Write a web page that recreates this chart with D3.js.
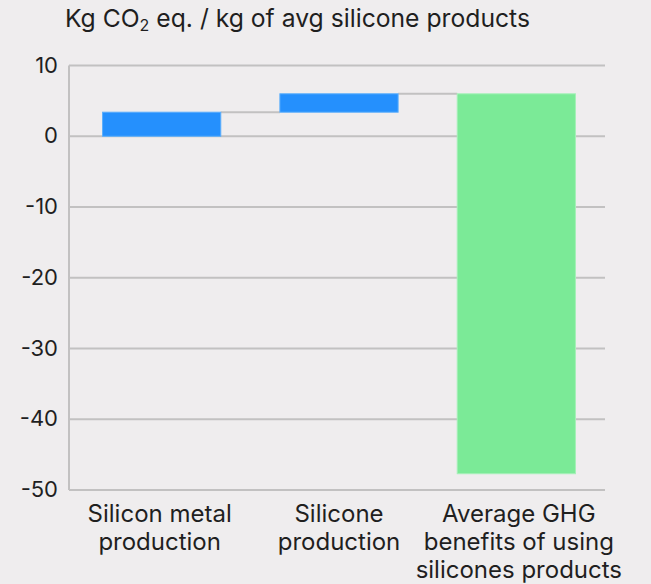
<!DOCTYPE html>
<html>
<head>
<meta charset="utf-8">
<script src="https://cdn.jsdelivr.net/npm/d3@7"></script>
<style>
  html, body { margin: 0; padding: 0; background: #efedee; }
  svg { display: block; }
  text { font-family: Inter, "Noto Sans", sans-serif; fill: #1f1f1f; }
</style>
</head>
<body>
<svg id="chart" width="651" height="584"></svg>
<script>
// Waterfall steps: contribution of each stage, in kg CO2 eq. per kg of product
const categories = [
  ["Silicon metal", "production"],
  ["Silicone", "production"],
  ["Average GHG", "benefits of using", "silicones products"]
];
const stepValues = [3.4, 2.6, -53.7];
const stepKinds = ["emission", "emission", "benefit"];
const yTicks = [10, 0, -10, -20, -30, -40, -50];
const yTickLabels = ["10", "0", "-10", "-20", "-30", "-40", "-50"];
const yDomain = [-50, 10];

const colors = { emission: "#2590fd", benefit: "#7bea97" };
const strokes = { emission: "#5aaefc", benefit: "#a6f1b8" };

const svg = d3.select("#chart");
const margin = { left: 69, right: 46, top: 65.5, bottom: 94 };
const W = 651, H = 584;

const y = d3.scaleLinear().domain(yDomain).range([H - margin.bottom, margin.top]);
const x = d3.scaleBand()
  .domain(d3.range(categories.length))
  .range([73, W - margin.right])
  .paddingInner(1 / 3)
  .paddingOuter(1 / 6);

// cumulative start/end of each step
let running = 0;
const steps = stepValues.map((v, i) => {
  const s = { i, start: running, end: running + v, kind: stepKinds[i] };
  running += v;
  return s;
});

// horizontal grid
svg.append("g")
  .selectAll("line")
  .data(yTicks)
  .join("line")
  .attr("x1", margin.left)
  .attr("x2", W - margin.right)
  .attr("y1", d => y(d))
  .attr("y2", d => y(d))
  .attr("stroke", "#c2c1c1")
  .attr("stroke-width", 2);

// left axis line
svg.append("line")
  .attr("x1", margin.left).attr("x2", margin.left)
  .attr("y1", y(10)).attr("y2", y(-50))
  .attr("stroke", "#c2c1c1")
  .attr("stroke-width", 2);

// y tick labels
const yAxis = d3.axisLeft(y)
  .tickValues(yTicks)
  .tickFormat((d, i) => yTickLabels[i])
  .tickSize(0)
  .tickPadding(11);
const gy = svg.append("g").attr("transform", `translate(${margin.left},0)`).call(yAxis);
gy.select(".domain").remove();
gy.selectAll("text")
  .attr("dy", "0.3em")
  .style("font-family", "Inter, 'Noto Sans', sans-serif")
  .style("font-size", "22px")
  .attr("fill", "#1f1f1f");

// connectors between steps
svg.append("g")
  .selectAll("line")
  .data(steps.slice(0, -1))
  .join("line")
  .attr("x1", d => x(d.i) + x.bandwidth())
  .attr("x2", d => x(d.i + 1))
  .attr("y1", d => y(d.end))
  .attr("y2", d => y(d.end))
  .attr("stroke", "#c2c1c1")
  .attr("stroke-width", 2);

// bars
svg.append("g")
  .selectAll("rect")
  .data(steps)
  .join("rect")
  .attr("x", d => x(d.i))
  .attr("width", x.bandwidth())
  .attr("y", d => y(Math.max(d.start, d.end)))
  .attr("height", d => Math.abs(y(d.start) - y(d.end)))
  .attr("fill", d => colors[d.kind])
  .attr("stroke", d => strokes[d.kind])
  .attr("stroke-width", 1);

// category labels (spread slightly wider than the bars)
const labelShift = [-2, 0, 2.5];
const labels = svg.append("g")
  .selectAll("text")
  .data(categories)
  .join("text")
  .attr("text-anchor", "middle")
  .attr("x", (d, i) => x(i) + x.bandwidth() / 2 + labelShift[i])
  .attr("y", 522)
  .style("font-size", "24px");
labels.selectAll("tspan")
  .data(d => d)
  .join("tspan")
  .attr("x", function () { return this.parentNode.getAttribute("x"); })
  .attr("dy", (d, j) => j === 0 ? 0 : 28)
  .text(d => d);

// unit title
const title = svg.append("text")
  .attr("x", 65)
  .attr("y", 27)
  .style("font-size", "24.7px");
title.append("tspan").text("Kg CO");
title.append("tspan").attr("font-size", "16px").attr("dy", 4).text("2");
title.append("tspan").attr("dy", -4).text(" eq. / kg of avg silicone products");
</script>
</body>
</html>
